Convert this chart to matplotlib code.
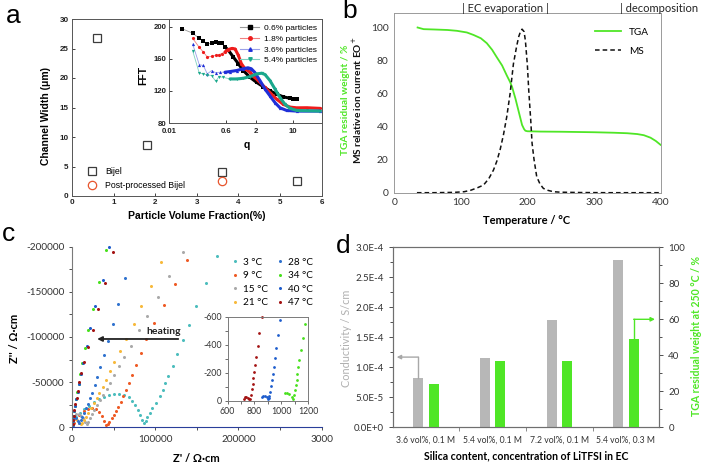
import matplotlib
matplotlib.use('Agg')
import matplotlib.pyplot as plt
import numpy as np
from matplotlib.ticker import FuncFormatter, MultipleLocator, FixedLocator

plt.rcParams['axes.unicode_minus'] = False
plt.rcParams['font.family'] = ['Lato', 'DejaVu Sans']

# ---------------- data: panel a ----------------
a_frac = [0.6, 1.8, 3.6, 5.4]
a_width = [26.7, 8.6, 4.0, 2.5]
a_pp_frac = [3.6]
a_pp_width = [2.5]

# inset FFT
q_black = [0.0256, 0.0542, 0.0873, 0.1164, 0.1555, 0.2138, 0.2855, 0.362, 0.440, 0.558, 0.659,
           0.808, 0.991, 1.215, 1.595, 2.10, 2.79, 3.72, 4.95, 6.58, 8.77, 10.1, 11.7]
f_black = [197.1, 191.7, 185.3, 182.3, 177.8, 179.8, 180.7, 179.0, 179.0, 174.7, 170.6,
           162.1, 153.8, 145.3, 136.8, 130.5, 125.1, 120.0, 115.9, 112.5, 110.8, 110.3, 110.3]
q_red = [0.0542, 0.0873, 0.1164, 0.1555, 0.2138, 0.2855, 0.362, 0.440, 0.558, 0.659, 0.757, 0.866,
         0.991, 1.123, 1.301, 1.595, 1.924, 2.42, 3.00, 3.72, 4.95, 6.58, 8.77, 11.7, 18.0, 31.8]
f_red = [185.3, 174.0, 168.4, 162.1, 163.0, 164.2, 165.1, 166.4, 168.4, 171.4, 172.7, 172.2,
         164.3, 153.8, 147.5, 143.2, 136.8, 130.5, 124.2, 117.9, 109.6, 103.2, 99.8, 98.9, 99.0, 98.2]
q_blue = [0.0542, 0.0873, 0.1164, 0.1555, 0.2138, 0.2855, 0.389, 0.558, 0.707, 0.928, 1.215, 1.466,
          1.682, 1.924, 2.42, 3.00, 3.72, 4.61, 5.71, 7.61, 11.7, 31.8]
f_blue = [178.1, 152.5, 151.6, 141.1, 145.3, 142.4, 143.2, 143.2, 144.0, 145.3, 147.5, 148.7,
          147.5, 143.2, 132.7, 122.2, 113.7, 105.3, 98.9, 95.6, 94.8, 94.8]
q_teal = [0.0542, 0.0873, 0.1164, 0.1555, 0.2138, 0.2855, 0.362, 0.494, 0.707, 0.928, 1.215, 1.595,
          2.10, 2.60, 3.00, 3.72, 4.61, 5.71, 7.08, 8.77, 11.7, 31.8]
f_teal = [169.7, 141.9, 141.1, 139.9, 139.0, 131.8, 137.7, 136.8, 134.8, 134.8, 135.6, 137.7,
          141.1, 141.9, 140.3, 132.7, 122.2, 111.6, 103.2, 98.2, 95.6, 94.8]
fft_labels = ['0.6% particles', '1.8% particles', '3.6% particles', '5.4% particles']

# ---------------- data: panel b ----------------
tga_T = [35, 44, 60, 80, 94, 109, 119, 130, 139, 147, 154, 162, 169, 174, 177, 182, 187, 192, 195,
         197, 200, 220, 250, 300, 330, 350, 365, 375, 385, 393, 400]
tga_w = [100, 99, 98.8, 98.5, 98, 97, 95.5, 93.5, 90.5, 86.5, 82, 77, 71, 67, 64, 57, 49, 41, 38.5,
         37.5, 37.2, 37.0, 36.9, 36.6, 36.3, 36.0, 35.5, 34.8, 33.3, 31.3, 29]
ms_T = [34, 60, 90, 105, 115, 125, 134, 142, 149, 154, 159, 164, 169, 174, 179, 184, 187, 190, 192,
        195, 197, 200, 202, 205, 207, 210, 214, 219, 224, 231, 239, 250, 280, 320, 360, 400]
ms_v = [0, 0, 0.2, 0.6, 1.5, 3, 4.6, 8.5, 13.7, 19, 26, 35, 46, 60, 78, 89, 94.5, 98, 99, 97.5,
        92, 77, 62, 44, 30, 20, 9.7, 5.2, 2.6, 1.4, 0.6, 0.3, 0.1, 0, 0, 0]

# ---------------- data: panel c ----------------
temps = ['3 °C', '9 °C', '15 °C', '21 °C', '28 °C', '34 °C', '40 °C', '47 °C']
c_colors = ['#4bbdbd', '#ee5a24', '#a9a9a9', '#f7b93a', '#2f72cf', '#47e01c', '#1d5ccc', '#a31212']
zr = {
    '3 °C': [1600, 4800, 9600, 14800, 20900, 26900, 32900, 38900, 45000, 51000, 57000, 63000, 68300,
             72300, 75900, 79100, 81900, 84300, 86400, 88400, 90400, 93200, 96400, 100400, 105200,
             108800, 112000, 115300, 120800, 126100, 132900, 141000, 149400, 161000, 174300],
    '9 °C': [2000, 5000, 9000, 14000, 19000, 24000, 29000, 33000, 36000, 38500, 41000, 43000, 45000,
             47800, 50200, 53000, 55800, 59000, 61800, 65100, 68300, 72300, 77100, 83100, 89200,
             98800, 110000, 123300, 138200],
    '15 °C': [1600, 4800, 8100, 10800, 13600, 16000, 18100, 19600, 21700, 24100, 26900, 30100, 33700,
              37700, 41800, 46100, 51000, 56200, 63000, 70300, 80300, 90400, 102800, 116900, 133300],
    '21 °C': [1200, 3300, 5800, 8100, 10500, 12000, 14500, 16900, 19600, 22900, 26100, 29800, 32900,
              37000, 41000, 45800, 51000, 57800, 65100, 73900, 83100, 94800, 106800],
    '28 °C': [2400, 4800, 7000, 8800, 10500, 12500, 14500, 16900, 19300, 21700, 24500, 27300, 30500,
              33700, 38600, 43700, 49000, 55800, 64200],
    '34 °C': [700, 1200, 1800, 2600, 3700, 5000, 6500, 8300, 10200, 12000, 15700, 19700, 24900, 32900, 41000],
    '40 °C': [800, 1300, 1900, 2800, 3900, 5300, 6900, 8700, 10700, 13000, 18100, 22100, 28100, 37000, 45000],
    '47 °C': [700, 1300, 2000, 2900, 4000, 5500, 7200, 9000, 11200, 14800, 18900, 24900, 31700, 40100, 49800],
}
zi = {
    '3 °C': [-6200, -11100, -15500, -20000, -24000, -27800, -31100, -34000, -35900, -37000, -37000,
             -35900, -33300, -29600, -24800, -19200, -13700, -7800, -5100, -7400, -11100, -15500,
             -21100, -26700, -35100, -41400, -48900, -57300, -68400, -81100, -96200, -113700,
             -134000, -160000, -189600],
    '9 °C': [-5000, -9500, -14000, -18000, -20500, -21500, -20500, -17000, -12000, -7000, -2200, -3300,
             -6200, -10000, -13700, -18400, -22900, -28500, -34800, -41400, -48900, -58100, -69200,
             -82200, -98100, -115600, -135100, -158900, -185100],
    '15 °C': [-11800, -14800, -14800, -12900, -10000, -6200, -3700, -6200, -10000, -14800, -19200,
              -24800, -30300, -35900, -42200, -49600, -58100, -68100, -78400, -90300, -108100,
              -123700, -144400, -168100, -194400],
    '21 °C': [-8100, -10000, -8100, -5100, -3300, -5100, -8100, -11800, -16200, -21100, -26700, -32200,
              -38400, -45100, -52600, -61800, -71800, -84000, -98100, -114400, -134000, -157000, -183300],
    '28 °C': [-10000, -10000, -7400, -5100, -8100, -11800, -16200, -21100, -25900, -32200, -38400,
              -47000, -56200, -67300, -80000, -95100, -114800, -137000, -165500],
    '34 °C': [-3000, -7000, -12000, -17500, -24000, -31000, -39000, -48500, -59500, -71100, -87800,
              -108000, -131500, -161000, -196000],
    '40 °C': [-3000, -7000, -12000, -17500, -24000, -31000, -39000, -48500, -59500, -71500, -90300,
              -110000, -134000, -163000, -200000],
    '47 °C': [-3500, -8000, -13000, -19000, -25500, -32500, -40500, -50000, -60500, -71800, -88900,
              -108000, -131500, -160000, -194000],
}
# inset (high temperatures)
in_temps = ['34 °C', '40 °C', '47 °C']
in_zr = {
    '47 °C': [721, 729, 741, 754, 761, 769, 776, 781, 786, 791, 796, 803, 813, 826, 835, 853],
    '40 °C': [853, 865, 878, 890, 900, 907, 910, 915, 922, 930, 937, 945, 952, 962, 972, 989],
    '34 °C': [1027, 1044, 1059, 1076, 1088, 1094, 1101, 1108, 1113, 1118, 1126, 1133, 1145, 1158, 1175],
}
in_zi = {
    '47 °C': [-17, -26, -26, -21, -12, -17, -40, -83, -121, -161, -204, -256, -315, -394, -481, -595],
    '40 °C': [-31, -36, -36, -26, -12, -19, -36, -66, -107, -149, -192, -244, -304, -379, -470, -576],
    '34 °C': [-55, -55, -47, -31, -14, -43, -78, -114, -149, -192, -240, -292, -363, -446, -548],
}

# ---------------- data: panel d ----------------
d_cats = ['3.6 vol%, 0.1 M', '5.4 vol%, 0.1 M', '7.2 vol%, 0.1 M', '5.4 vol%, 0.3 M']
d_cond = [8.2e-5, 1.16e-4, 1.79e-4, 2.79e-4]
d_tga = [23.9, 36.8, 36.8, 48.9]

# ---------------- figure ----------------
W, H = 703, 466
fig = plt.figure(figsize=(W / 100, H / 100), dpi=100)


def rect(l, r, t, b):
    return [l / W, 1 - b / H, (r - l) / W, (b - t) / H]


def ftext(x, y, s, **kw):
    fig.text(x / W, 1 - y / H, s, **kw)


AF = ['Liberation Sans', 'DejaVu Sans']
GREEN = '#4fe626'

# ===== panel a =====
axa = fig.add_axes(rect(72, 321.7, 19, 196))
axa.plot(a_frac, a_width, 's', mfc='none', mec='#3c3c3c', ms=5.5, mew=0.9, label='Bijel')
axa.plot(a_pp_frac, a_pp_width, 'o', mfc='none', mec='#e8552d', ms=6, mew=0.9,
         label='Post-processed Bijel')
axa.set_xlim(0, 6)
axa.set_ylim(0, 30)
axa.set_xticks(range(7))
axa.set_yticks(range(0, 31, 5))
axa.tick_params(direction='in', length=2, width=0.6, pad=2.5, labelsize=5.8, colors='#222222')
for lab in axa.get_xticklabels() + axa.get_yticklabels():
    lab.set_family(AF)
    lab.set_fontweight('bold')
for s in axa.spines.values():
    s.set_color('#555555')
    s.set_linewidth(0.7)
axa.legend(loc='lower left', bbox_to_anchor=(0.02, 0.0), frameon=False,
           prop={'family': AF, 'size': 6.3}, handletextpad=0.5, labelspacing=0.5,
           borderaxespad=0.3)
ftext(197, 216, 'Particle Volume Fraction(%)', family=AF, weight='bold', size=7.5,
      ha='center', va='center')
ftext(46, 116, 'Channel Width (μm)', family=AF, weight='bold', size=7.5, rotation=90,
      ha='center', va='center')

# inset a
axi = fig.add_axes(rect(169.3, 321.7, 19.3, 123))
anch_log = [-2.0, np.log10(0.6), np.log10(2.0), 1.0, 1.534]
anch_frac = [0.0, 0.372, 0.566, 0.812, 1.0]


def fwd(q):
    q = np.asarray(q, dtype=float)
    return np.interp(np.log10(np.clip(q, 1e-6, None)), anch_log, anch_frac)


def inv(f):
    f = np.asarray(f, dtype=float)
    return 10 ** np.interp(f, anch_frac, anch_log)


axi.set_xscale('function', functions=(fwd, inv))
series = [(q_black, f_black, 's', '#000000', '#9a9a9a'),
          (q_red, f_red, 'o', '#ee1c1c', '#f08080'),
          (q_blue, f_blue, '^', '#1f2fd8', '#9aa0e8'),
          (q_teal, f_teal, 'v', '#1aa88c', '#80d0c0')]
for (q, f, m, c, lc), lab in zip(series, fft_labels):
    axi.plot(q, f, '-', color=lc, lw=0.6)
    qa = np.asarray(q)
    fa = np.asarray(f)
    sel = qa > 0.5
    axi.plot(qa[sel], fa[sel], '-', color=c, lw=2.2, solid_capstyle='round')
    axi.plot(q, f, m, color=c, ms=2.3, mew=0)
for (q, f, m, c, lc), lab in zip(series, fft_labels):
    axi.plot([], [], '-', marker=m, color=lc, mfc=c, mec=c, ms=2.5, lw=0.8, label=lab)
h, l = axi.get_legend_handles_labels()
axi.legend(h[-4:], l[-4:], loc='upper right', frameon=False, prop={'family': AF, 'size': 6.0},
           handlelength=2.2, handletextpad=0.6, labelspacing=0.35, borderaxespad=0.2)
axi.set_xlim(0.01, 34.2)
axi.set_ylim(80, 209)
axi.xaxis.set_major_locator(FixedLocator([0.01, 0.6, 2, 10]))
axi.set_xticklabels(['0.01', '0.6', '2', '10'])
axi.xaxis.set_minor_locator(FixedLocator([]))
axi.set_yticks([80, 120, 160, 200])
axi.tick_params(direction='in', length=2, width=0.6, pad=2, labelsize=5.6, colors='#222222')
axi.tick_params(axis='x', pad=3.5)
for lab in axi.get_xticklabels() + axi.get_yticklabels():
    lab.set_family(AF)
    lab.set_fontweight('bold')
for s in axi.spines.values():
    s.set_color('#555555')
    s.set_linewidth(0.7)
ftext(143, 75, 'FFT', family=AF, weight='bold', size=7.5, rotation=90, ha='center', va='center')
ftext(247, 145, 'q', family=AF, weight='bold', size=7.5, ha='center', va='center')

# ===== panel b =====
axb = fig.add_axes(rect(394.3, 660.5, 13.3, 192.7))
axb.plot(tga_T, tga_w, '-', color=GREEN, lw=1.3, label='TGA')
axb.plot(ms_T, ms_v, '--', color='#111111', lw=1.1, dashes=(3, 2), label='MS')
axb.set_xlim(0, 400)
axb.set_ylim(0, 108.6)
axb.set_xticks(range(0, 401, 100))
axb.set_yticks(range(0, 101, 20))
axb.tick_params(length=0, pad=4, labelsize=7.4, colors='#333333')
for s in axb.spines.values():
    s.set_color('#9a9a9a')
    s.set_linewidth(0.7)
axb.legend(loc='upper right', bbox_to_anchor=(0.99, 0.97), frameon=False, fontsize=7.2,
           handlelength=2.6, labelspacing=1.0)
ftext(527, 220, 'Temperature / °C', weight='bold', size=8, ha='center', va='center')
ftext(345.5, 100, 'TGA residual weight / %', color=GREEN, weight='bold', size=7.3,
      rotation=90, ha='center', va='center')
ftext(357.5, 100, 'MS relative ion current EO$^{+}$', color='#111111', weight='bold', size=7.3,
      rotation=90, ha='center', va='center')
ftext(505, 9, '| EC evaporation |', size=8, ha='center', va='center', color='#222222')
ftext(620, 9, '| decomposition', size=8, ha='left', va='center', color='#222222')

# ===== panel c =====
axc = fig.add_axes(rect(72, 321.7, 246.7, 427.3))
for t, c in zip(temps, c_colors):
    axc.plot(zr[t], zi[t], 'o', color=c, ms=2.2, mew=0, label=t, clip_on=False)
axc.set_xlim(0, 300000)
axc.set_ylim(0, -200000)
axc.set_xticks([0, 100000, 200000, 300000])
axc.set_xticklabels(['0', '100000', '200000', '3000'])
axc.set_yticks([0, -50000, -100000, -150000, -200000])
axc.yaxis.set_major_formatter(FuncFormatter(lambda v, p: f'{int(round(v))}'))
axc.yaxis.set_minor_locator(MultipleLocator(25000))
axc.xaxis.set_minor_locator(MultipleLocator(50000))
axc.tick_params(which='both', direction='out', length=2.5, width=0.6, pad=3, labelsize=7.2,
                colors='#333333')
axc.spines['top'].set_visible(False)
axc.spines['right'].set_visible(False)
axc.spines['left'].set_color('#7a7a7a')
axc.spines['bottom'].set_color('#2a3f9a')
axc.legend(loc='upper right', bbox_to_anchor=(1.0, 0.99), ncol=2, frameon=False, fontsize=7.2,
           handlelength=0.6, handletextpad=0.5, columnspacing=0.9, labelspacing=0.45,
           markerscale=1.0)
axc.annotate('', xy=(26900, -97800), xytext=(131000, -97800),
             arrowprops=dict(arrowstyle='-|>', color='#222222', lw=1.3, mutation_scale=7))
axc.text(131000, -101000, 'heating', ha='right', va='bottom', fontsize=7.5, weight='bold',
         color='#222222')
ftext(196.7, 458, "Z' / Ω·cm", weight='bold', size=8, ha='center', va='center')
ftext(14.5, 338, "Z'' / Ω·cm", weight='bold', size=8, rotation=90, ha='center', va='center')

axci = fig.add_axes(rect(227.5, 308.3, 316.7, 401))
for t, c in zip(temps, c_colors):
    if t in in_temps:
        axci.plot(in_zr[t], in_zi[t], 'o', color=c, ms=2.0, mew=0, clip_on=False)
axci.set_xlim(600, 1200)
axci.set_ylim(0, -600)
axci.set_xticks([600, 800, 1000, 1200])
axci.set_yticks([0, -200, -400, -600])
axci.yaxis.set_major_formatter(FuncFormatter(lambda v, p: f'{int(round(v))}'))
axci.xaxis.set_minor_locator(MultipleLocator(100))
axci.yaxis.set_minor_locator(MultipleLocator(100))
axci.tick_params(which='both', direction='out', length=2, width=0.5, pad=2, labelsize=6.3,
                 colors='#333333')
for s in axci.spines.values():
    s.set_color('#7a7a7a')
    s.set_linewidth(0.7)

# ===== panel d =====
axd = fig.add_axes(rect(392.7, 659.3, 247.3, 427.3))
xpos = np.arange(len(d_cats))
bw = 0.15
axd.bar(xpos - 0.115, d_cond, width=bw, color='#b7b7b7', zorder=2)
axd.set_xlim(-0.5, len(d_cats) - 0.5)
axd.set_ylim(0, 3.0e-4)
axd.set_yticks(np.arange(0, 3.01e-4, 5e-5))
axd.yaxis.set_minor_locator(MultipleLocator(2.5e-5))
axd.yaxis.set_major_formatter(FuncFormatter(
    lambda v, p: '0.0E+0' if abs(v) < 1e-12 else f'{v:.1E}'.replace('E-0', 'E-')))
axd.set_xticks(xpos)
axd.set_xticklabels(d_cats)
axd.xaxis.set_minor_locator(FixedLocator([0.5, 1.5, 2.5]))
axd.tick_params(axis='x', which='major', length=0, pad=6, labelsize=6.2, colors='#333333')
axd.tick_params(axis='x', which='minor', length=3, width=0.6, color='#777777')
axd.tick_params(axis='y', which='both', direction='out', length=3, width=0.6, labelsize=7,
                colors='#333333')
axd.tick_params(axis='y', which='minor', length=2)
axd2 = axd.twinx()
axd2.bar(xpos + 0.115, d_tga, width=bw, color=GREEN, zorder=2)
axd2.set_ylim(0, 100)
axd2.set_yticks(range(0, 101, 20))
axd2.yaxis.set_minor_locator(MultipleLocator(10))
axd2.tick_params(axis='y', which='both', direction='out', length=3, width=0.6, labelsize=7,
                 colors='#333333')
axd2.tick_params(axis='y', which='minor', length=2)
for ax in (axd, axd2):
    for s in ax.spines.values():
        s.set_color('#6f6f6f')
        s.set_linewidth(0.8)
# indicator arrows
axd.annotate('', xy=(-0.44, 1.17e-4), xytext=(xpos[0] - 0.115, 1.17e-4),
             arrowprops=dict(arrowstyle='-|>', color='#a8a8a8', lw=1.0, mutation_scale=6,
                             shrinkA=0, shrinkB=0), annotation_clip=False)
axd.plot([xpos[0] - 0.115, xpos[0] - 0.115], [d_cond[0], 1.17e-4], color='#a8a8a8', lw=1.0)
axd2.annotate('', xy=(3.435, 60), xytext=(xpos[3] + 0.115, 60),
              arrowprops=dict(arrowstyle='-|>', color=GREEN, lw=1.0, mutation_scale=6,
                              shrinkA=0, shrinkB=0), annotation_clip=False)
axd2.plot([xpos[3] + 0.115, xpos[3] + 0.115], [d_tga[3], 60], color=GREEN, lw=1.0)
ftext(526.7, 455.7, 'Silica content, concentration of LiTFSI in EC', weight='bold', size=7.6,
      ha='center', va='center')
ftext(346, 338, 'Conductivity / S/cm', color='#b0b0b0', size=7.8, rotation=90, ha='center',
      va='center')
ftext(697, 336, 'TGA residual weight at 250 °C / %', color=GREEN, weight='bold', size=7.6,
      rotation=90, ha='center', va='center')

# panel letters
ftext(6, 23, 'a', family=AF, size=19, ha='left', va='baseline')
ftext(342, 18, 'b', family=AF, size=19, ha='left', va='baseline')
ftext(2, 241, 'c', family=AF, size=19, ha='left', va='baseline')
ftext(336, 253, 'd', family=AF, size=19, ha='left', va='baseline')

fig.savefig('out.png', dpi=100)
